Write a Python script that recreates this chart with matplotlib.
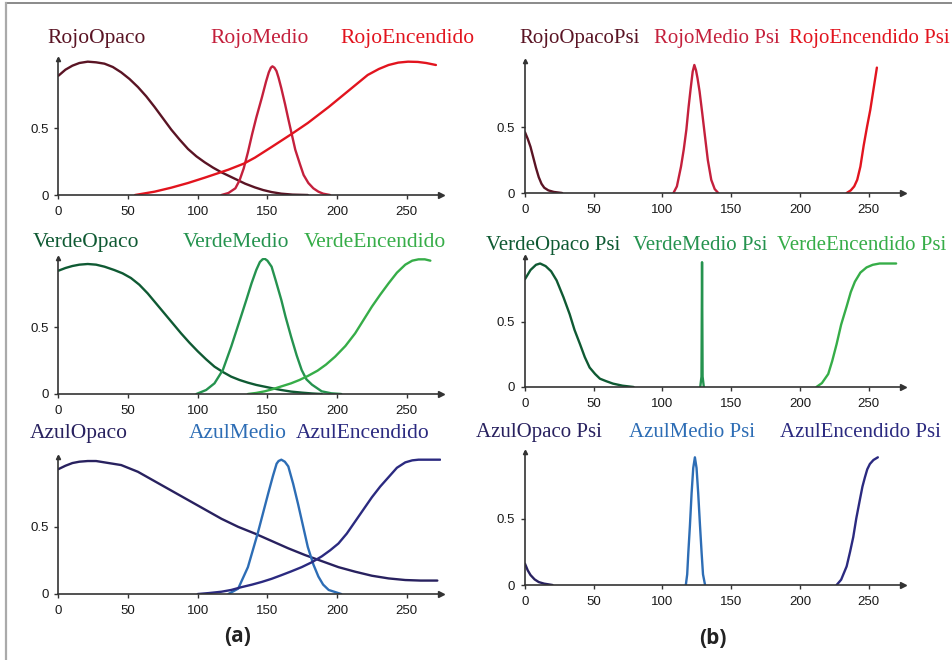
import matplotlib.pyplot as plt
from matplotlib.lines import Line2D

# ---- data (x = intensity level, y = membership) ----
# (a) top row
rojo_opaco_x = [0, 5, 10, 15, 21, 27, 33, 39, 45, 51, 57, 63, 69, 75, 81, 87, 93, 99, 105, 111, 117, 122,
                128, 134, 141, 147, 153, 160, 168, 179]
rojo_opaco_y = [0.895, 0.94, 0.97, 0.99, 1.0, 0.995, 0.985, 0.96, 0.92, 0.87, 0.81, 0.74, 0.66, 0.575, 0.49,
                0.415, 0.345, 0.29, 0.245, 0.205, 0.17, 0.145, 0.115, 0.085, 0.057, 0.037, 0.022, 0.01, 0.003, 0.0]
rojo_medio_x = [117, 122, 127, 130, 133, 136, 139, 142, 146, 149, 151, 152.5, 153.6, 155, 156.5, 158, 160,
                162.7, 165, 167.5, 170, 173.4, 176, 179.4, 183, 186.6, 190, 195]
rojo_medio_y = [0.0, 0.015, 0.05, 0.11, 0.2, 0.32, 0.455, 0.58, 0.73, 0.85, 0.92, 0.955, 0.965, 0.955, 0.93,
                0.88, 0.80, 0.68, 0.57, 0.455, 0.34, 0.23, 0.15, 0.09, 0.05, 0.025, 0.01, 0.0]
rojo_encendido_x = [55, 69, 81, 93, 105, 115, 122, 133, 141, 153, 167, 179, 194, 208, 222, 230, 237, 244,
                    251, 258, 264, 271]
rojo_encendido_y = [0.0, 0.025, 0.055, 0.09, 0.13, 0.165, 0.19, 0.235, 0.28, 0.36, 0.455, 0.54, 0.66, 0.78,
                    0.90, 0.945, 0.975, 0.993, 1.0, 0.998, 0.99, 0.975]

# (a) middle row
verde_opaco_x = [0, 5, 10, 15, 21, 27, 33, 40, 46, 52, 58, 64, 70, 76, 82, 88, 94, 100, 106, 112, 118, 124,
                 130, 136, 142, 148, 154, 160, 167, 175, 182, 189]
verde_opaco_y = [0.925, 0.945, 0.96, 0.97, 0.975, 0.97, 0.955, 0.93, 0.905, 0.87, 0.82, 0.755, 0.68, 0.605,
                 0.53, 0.455, 0.385, 0.32, 0.26, 0.205, 0.165, 0.13, 0.105, 0.085, 0.068, 0.055, 0.042, 0.03,
                 0.018, 0.01, 0.004, 0.0]
verde_medio_x = [99, 106, 112, 118, 124, 131, 135, 138.6, 142, 144.6, 146.5, 148, 150, 153, 156, 160, 163,
                 167, 171, 174.6, 178, 182, 189, 196, 203]
verde_medio_y = [0.0, 0.03, 0.08, 0.18, 0.355, 0.58, 0.71, 0.83, 0.93, 0.99, 1.01, 1.015, 1.0, 0.955, 0.85,
                 0.705, 0.58, 0.43, 0.29, 0.18, 0.11, 0.07, 0.02, 0.005, 0.0]
verde_encendido_x = [136, 142, 148, 154, 160, 167, 173, 179, 186, 192, 198.6, 206, 213, 219, 225, 231, 237,
                     243, 249, 254, 258.5, 263, 267]
verde_encendido_y = [0.0, 0.008, 0.02, 0.037, 0.057, 0.08, 0.105, 0.135, 0.175, 0.22, 0.28, 0.36, 0.455, 0.555,
                     0.655, 0.745, 0.83, 0.91, 0.97, 1.0, 1.01, 1.01, 1.0]

# (a) bottom row
azul_opaco_x = [0, 5, 10, 15, 21, 27, 33, 45, 57, 69, 81, 93, 105, 117, 129, 141, 153, 165, 177, 189, 201,
                213, 225, 237, 249, 260, 272]
azul_opaco_y = [0.93, 0.955, 0.975, 0.985, 0.99, 0.99, 0.98, 0.96, 0.91, 0.84, 0.77, 0.70, 0.63, 0.56, 0.50,
                0.45, 0.395, 0.34, 0.29, 0.245, 0.20, 0.166, 0.136, 0.116, 0.104, 0.1, 0.1]
azul_medio_x = [122, 129, 136, 143, 150.6, 154, 156.6, 158, 160, 162.5, 165, 168.5, 172, 175.5, 179, 183,
                186.6, 190, 194, 203]
azul_medio_y = [0.0, 0.04, 0.20, 0.45, 0.75, 0.88, 0.97, 0.99, 1.0, 0.985, 0.95, 0.82, 0.67, 0.51, 0.35,
                0.22, 0.13, 0.07, 0.03, 0.0]
azul_encendido_x = [100, 108, 117, 124, 131, 139, 146, 153, 160, 167, 174.6, 182, 189, 195, 201, 207, 213,
                    219, 225, 231, 237, 243, 249, 254, 258.5, 274]
azul_encendido_y = [0.0, 0.007, 0.017, 0.03, 0.05, 0.07, 0.09, 0.113, 0.14, 0.168, 0.2, 0.237, 0.28, 0.325,
                    0.376, 0.45, 0.54, 0.63, 0.72, 0.8, 0.87, 0.94, 0.98, 0.995, 1.0, 1.0]

# (b) top row
rojo_opaco_psi_x = [0, 2, 4, 6, 8, 10, 12, 14, 17, 21, 27]
rojo_opaco_psi_y = [0.46, 0.41, 0.35, 0.27, 0.19, 0.12, 0.07, 0.04, 0.02, 0.008, 0.0]
rojo_medio_psi_x = [108, 110.5, 113.5, 115.5, 117.4, 119, 120.5, 122, 123.2, 124.4, 125.5, 127, 129, 130.7,
                    133, 135.5, 138, 140.6]
rojo_medio_psi_y = [0.0, 0.05, 0.2, 0.33, 0.48, 0.65, 0.79, 0.92, 0.97, 0.93, 0.87, 0.77, 0.6, 0.45, 0.25,
                    0.1, 0.03, 0.0]
rojo_encendido_psi_x = [234, 237, 239.5, 241.7, 244, 246.4, 248.8, 251.2, 253.6, 256]
rojo_encendido_psi_y = [0.0, 0.02, 0.05, 0.1, 0.2, 0.36, 0.5, 0.63, 0.79, 0.95]

# (b) middle row
verde_opaco_psi_x = [0, 4, 8, 11, 15, 19, 23, 28, 32.5, 36, 40, 43.5, 47, 51, 54.5, 59, 64, 71, 79]
verde_opaco_psi_y = [0.83, 0.9, 0.94, 0.95, 0.93, 0.89, 0.82, 0.69, 0.56, 0.44, 0.33, 0.23, 0.15, 0.1, 0.064,
                     0.045, 0.026, 0.01, 0.0]
verde_medio_psi_x = [127.5, 128.4, 128.8, 129.2, 130.1]
verde_medio_psi_y = [0.0, 0.08, 0.96, 0.08, 0.0]
verde_encendido_psi_x = [212, 216, 220.6, 223.5, 226.7, 230, 234, 237, 240, 244, 248.5, 253, 258, 270]
verde_encendido_psi_y = [0.0, 0.03, 0.1, 0.2, 0.33, 0.48, 0.62, 0.73, 0.81, 0.88, 0.92, 0.94, 0.95, 0.95]

# (b) bottom row
azul_opaco_psi_x = [0, 2, 4, 7, 10, 14, 20]
azul_opaco_psi_y = [0.16, 0.11, 0.075, 0.042, 0.022, 0.01, 0.0]
azul_medio_psi_x = [117, 118, 118.8, 120, 121.2, 122.4, 123.6, 124.8, 126, 127.3, 128.5, 129.5, 131]
azul_medio_psi_y = [0.0, 0.08, 0.24, 0.45, 0.69, 0.88, 0.96, 0.88, 0.69, 0.45, 0.24, 0.08, 0.0]
azul_encendido_psi_x = [226.7, 230, 234, 236.5, 238.8, 241, 243.6, 245.5, 247.3, 249, 250.9, 253.5, 256.7]
azul_encendido_psi_y = [0.0, 0.04, 0.14, 0.25, 0.36, 0.5, 0.64, 0.74, 0.81, 0.87, 0.91, 0.94, 0.96]

x_ticks = [0, 50, 100, 150, 200, 250]
y_ticks = [0, 0.5]
y_tick_labels = ['0', '0.5']

# ---- colours ----
c_rojo = ['#5a1424', '#c4203c', '#e2141e']
c_verde = ['#0f5a33', '#25934f', '#36ad48']
c_azul = ['#28215f', '#2d6db5', '#2b2a80']

W, H = 953, 660
fig = plt.figure(figsize=(W / 100, H / 100), dpi=100)

# panel geometry in pixels: left, y of zero line, width, height
panels = [
    (58.5, 195, 383, 136, 1.02,
     [(rojo_opaco_x, rojo_opaco_y), (rojo_medio_x, rojo_medio_y), (rojo_encendido_x, rojo_encendido_y)],
     c_rojo, ['RojoOpaco', 'RojoMedio', 'RojoEncendido'], [97, 260, 408], 43, 15.5),
    (58.5, 394, 383, 136, 1.02,
     [(verde_opaco_x, verde_opaco_y), (verde_medio_x, verde_medio_y), (verde_encendido_x, verde_encendido_y)],
     c_verde, ['VerdeOpaco', 'VerdeMedio', 'VerdeEncendido'], [86, 236, 375], 247, 15.5),
    (58.5, 594, 383, 137, 1.02,
     [(azul_opaco_x, azul_opaco_y), (azul_medio_x, azul_medio_y), (azul_encendido_x, azul_encendido_y)],
     c_azul, ['AzulOpaco', 'AzulMedio', 'AzulEncendido'], [79, 238, 363], 438, 15.5),
    (525, 193, 378, 132, 1.0,
     [(rojo_opaco_psi_x, rojo_opaco_psi_y), (rojo_medio_psi_x, rojo_medio_psi_y),
      (rojo_encendido_psi_x, rojo_encendido_psi_y)],
     c_rojo, ['RojoOpacoPsi', 'RojoMedio Psi', 'RojoEncendido Psi'], [580, 717, 869], 43, 15),
    (525, 387, 378, 130, 1.0,
     [(verde_opaco_psi_x, verde_opaco_psi_y), (verde_medio_psi_x, verde_medio_psi_y),
      (verde_encendido_psi_x, verde_encendido_psi_y)],
     c_verde, ['VerdeOpaco Psi', 'VerdeMedio Psi', 'VerdeEncendido Psi'], [553, 700, 862], 250, 15),
    (525, 585, 378, 133, 1.0,
     [(azul_opaco_psi_x, azul_opaco_psi_y), (azul_medio_psi_x, azul_medio_psi_y),
      (azul_encendido_psi_x, azul_encendido_psi_y)],
     c_azul, ['AzulOpaco Psi', 'AzulMedio Psi', 'AzulEncendido Psi'], [539, 692, 860], 437, 15),
]

for left, y0, width, height, ytop, curves, colors, names, name_x, name_y, fsize in panels:
    ax = fig.add_axes([left / W, 1 - y0 / H, width / W, height / H])
    for (xs, ys), col in zip(curves, colors):
        ax.plot(xs, ys, color=col, lw=1.7, solid_capstyle='round', solid_joinstyle='round')
    ax.set_xlim(0, 275)
    ax.set_ylim(0, ytop)
    ax.set_xticks(x_ticks)
    ax.set_yticks(y_ticks)
    ax.set_yticklabels(y_tick_labels)
    for s in ['top', 'right']:
        ax.spines[s].set_visible(False)
    for s in ['left', 'bottom']:
        ax.spines[s].set_color('#333333')
        ax.spines[s].set_linewidth(1.2)
    ax.tick_params(direction='out', length=3, width=1, color='#333333',
                   labelsize=9.5, labelcolor='#1a1a1a')
    ax.tick_params(axis='x', pad=5)
    ax.tick_params(axis='y', pad=4)
    for lab in ax.get_xticklabels() + ax.get_yticklabels():
        lab.set_family('Liberation Sans')
    ax.plot(1, 0, '>', color='#333333', ms=4, transform=ax.transAxes, clip_on=False)
    ax.plot(0, 1, '^', color='#333333', ms=3, transform=ax.transAxes, clip_on=False)
    for name, nx, col in zip(names, name_x, colors):
        fig.text(nx / W, 1 - name_y / H, name, color=col, ha='center', va='baseline',
                 family='Liberation Serif', fontsize=fsize)

fig.text(238 / W, 1 - 636 / H, '(a)', ha='center', va='center',
         family='Open Sans', fontweight='bold', fontsize=15, color='#222222')
fig.text(713 / W, 1 - 638 / H, '(b)', ha='center', va='center',
         family='Open Sans', fontweight='bold', fontsize=15, color='#222222')

# thin frame around the figure (top and left edges only)
fig.add_artist(Line2D([6 / W, 1], [1 - 3 / H, 1 - 3 / H], transform=fig.transFigure,
                      color='#777777', lw=1.2))
fig.add_artist(Line2D([6 / W, 6 / W], [0, 1 - 3 / H], transform=fig.transFigure,
                      color='#aaaaaa', lw=1.6))

fig.savefig('out.png', dpi=100)
